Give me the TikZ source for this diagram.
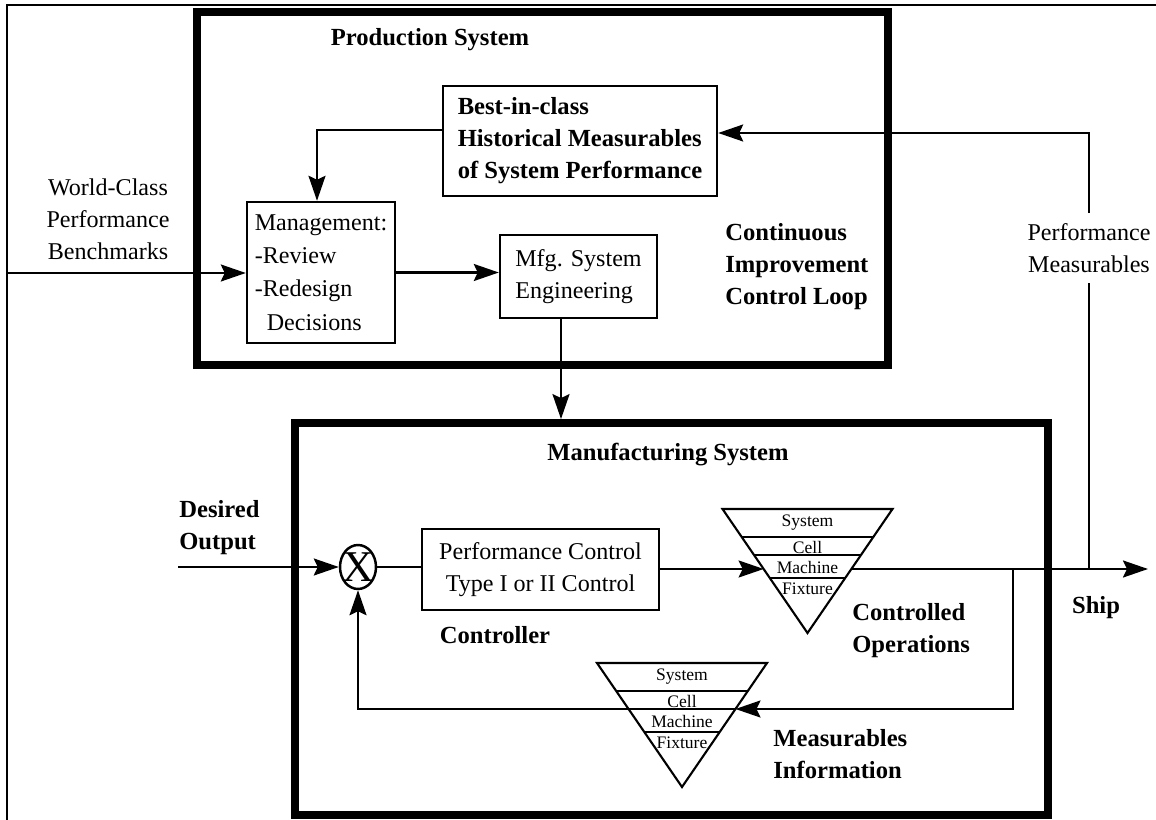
\documentclass[tikz,border=0pt]{standalone}
\usepackage{fontspec}
\setmainfont{Liberation Serif}
\usetikzlibrary{arrows.meta,shapes.geometric}

\tikzset{
  thin line/.style={line width=1.3pt},
  box/.style={draw,line width=1.4pt,inner sep=0pt,align=left},
  bigbox/.style={draw,line width=4.5pt,inner sep=0pt},
  arr/.style={line width=1.3pt,-{Stealth[length=0.5cm,width=0.34cm,inset=0.08cm]}},
  lbl/.style={font=\fontsize{13.7}{18.2}\selectfont,align=left,inner sep=0pt},
  blbl/.style={lbl,font=\fontsize{14}{18.2}\selectfont\bfseries},
  tri text/.style={font=\fontsize{10}{10}\selectfont,inner sep=0pt},
  pics/layers/.style={code={
    \draw[line width=1.2pt] (-85,0) -- (85,0) -- (0,124) -- cycle;
    \foreach \d in {28,46,69}
      \draw[line width=1.2pt] ({-85*(1-\d/124)},\d) -- ({85*(1-\d/124)},\d);
    \node[tri text] at (0,14) {System};
    \node[tri text] at (0,38) {Cell};
    \node[tri text] at (0,58) {Machine};
    \node[tri text] at (0,80) {Fixture};
    \coordinate (-w) at ({-85*(1-#1/124)},#1);
    \coordinate (-e) at ({85*(1-#1/124)},#1);
  }}
}

\begin{document}
\begin{tikzpicture}[x=0.02cm,y=-0.02cm]
  \useasboundingbox (0,0) rectangle (1156,820);
  \draw[thin line] (7,820) -- (7,5) -- (1156,5);

  % production system
  \node[bigbox,minimum width=13.82cm,minimum height=7.06cm] (prod) at (542.5,188.5) {};
  \node[blbl] (prodtitle) at (430,40) {Production System};
  \node[box,font=\fontsize{14}{18.2}\selectfont\bfseries,minimum width=5.48cm,minimum height=2.2cm] (best) at (580,141) {Best-in-class\\Historical Measurables\\of System Performance};
  \node[box,font=\fontsize{13.7}{19}\selectfont,minimum width=2.96cm,minimum height=2.82cm] (mgmt) at (321,272.5) {Management:\\-Review\\-Redesign\\\hspace*{0.24cm}Decisions};
  \node[box,font=\fontsize{13.7}{18.2}\selectfont,minimum width=3.14cm,minimum height=1.66cm] (mfg) at (578.5,276.5) {Mfg. System\\Engineering};
  \node[blbl,anchor=west] (loop) at (725,267) {Continuous\\Improvement\\Control Loop};

  \node[lbl,align=center] (wcb) at (108,219) {World-Class\\Performance\\Benchmarks};
  \node[lbl,align=center,inner sep=0.2cm] (pml) at (1089,248) {Performance\\Measurables};

  % manufacturing system
  \node[bigbox,minimum width=15.06cm,minimum height=7.84cm] (manuf) at (671.5,619) {};
  \node[blbl] (manuftitle) at (668,455) {Manufacturing System};
  \node[blbl,anchor=west] (desired) at (179,528) {Desired\\Output};
  \node[draw,ellipse,line width=1.4pt,minimum width=0.72cm,minimum height=0.88cm,inner sep=0pt,
        label={[font=\fontsize{25}{25}\selectfont,inner sep=0pt]center:X}] (sum) at (358,567) {};
  \node[box,align=center,font=\fontsize{13.7}{18.2}\selectfont,minimum width=4.74cm,minimum height=1.62cm] (pc) at (540.5,569.5) {Performance Control\\Type I or II Control};
  \node[blbl] (ctrl) at (495,635) {Controller};
  \pic (t1) at (807.5,509) {layers=60};
  \pic (t2) at (682,663) {layers=46};
  \node[blbl,anchor=west] (ops) at (852,631) {Controlled\\Operations};
  \node[blbl,anchor=west] (info) at (773,754) {Measurables\\Information};
  \node[blbl] (ship) at (1096,608) {Ship};

  \coordinate (wc) at (7,273);
  \coordinate (din) at (178,567);
  \coordinate (out) at (1148,569);
  \coordinate (fb) at (1013,569);
  \coordinate (pm) at (1089,569);

  \draw[arr] (wc) -- (wc -| mgmt.west);
  \draw[arr] ([yshift=0.22cm]best.west) -| ([xshift=-0.08cm]mgmt.north);
  \draw[arr] (mgmt.east) -- (mgmt.east -| mfg.west);
  \draw[arr] ([xshift=-0.35cm]mfg.south) -- ([xshift=-0.35cm]mfg.south |- manuf.north);
  \draw[arr] (din) -- (sum);
  \draw[thin line] (sum.east) -- (sum.east -| pc.west);
  \draw[arr] (pc.east |- t1-w) -- (t1-w);
  \draw[arr] (t1-e) -- (out);
  \draw[arr] (fb) |- (t2-e);
  \draw[arr] (t2-w) -| (sum.south);
  \draw[thin line] (pm) -- (pml.south);
  \draw[arr] (pml.north) |- ([yshift=0.16cm]best.east);
\end{tikzpicture}
\end{document}
